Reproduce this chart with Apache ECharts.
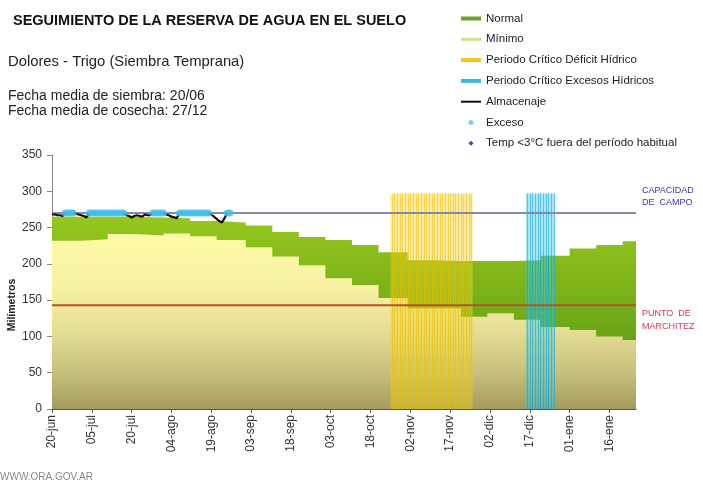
<!DOCTYPE html>
<html><head><meta charset="utf-8">
<script src="https://cdn.jsdelivr.net/npm/echarts@6/dist/echarts.min.js"></script>
<style>html,body{margin:0;padding:0;background:#fff}#c{width:703px;height:484px}</style>
</head><body><div id="c"></div>
<script>
// ---- data ----
const tickLabels = ['20-jun','05-jul','20-jul','04-ago','19-ago','03-sep','18-sep','03-oct','18-oct','02-nov','17-nov','02-dic','17-dic','01-ene','16-ene'];
const tickDays = [0,15,30,45,60,75,90,105,120,135,150,165,180,195,210];
const xMax = 220;
const decadeStart = [0,11,21,31,42,52,62,73,83,93,103,113,123,134,144,154,164,174,184,195,205,215];
const normalTop = [265,265,265,264,263,259,257,253,244,237,233,226,216,205,204,204,204,205,211,221,226,231];
const minimo    = [232,234,241,239,242,238,233,223,210,198,180,171,153,139,139,127,132,123,113,109,100,95];
const almacenaje = [
  268,268,267,267,266,
  270,270,270,270,
  269,268,267,266,264,
  270,270,270,270,270,270,270,270,270,270,270,270,270,270,
  267,266,264,266,267,266,265,268,267,267,
  270,270,270,270,270,
  268,267,265,264,263,
  270,270,270,270,270,270,270,270,270,270,270,270,
  268,265,262,259,257,263,
  270,270
];
const excesoDays = [5,6,7,8,14,15,16,17,18,19,20,21,22,23,24,25,26,27,38,39,40,41,42,48,49,50,51,52,53,54,55,56,57,58,59,66,67];
const capacidad = 270;
const marchitez = 143;
const deficitPeriod = [127.5, 158.5, 297];
const excesosPeriod = [178.5, 189.5, 297];

// ---- build ----
function stepData(vals){ const d = decadeStart.map((s,i)=>[s, vals[i]]); d.push([xMax, vals[vals.length-1]]); return d; }
const almData = almacenaje.map((v,i)=>[i, v]);
const excData = excesoDays.map(d=>[d, capacidad]);

function periodRender(fill, stroke){
  return function(params, api){
    const s = api.value(0), e = api.value(1), top = api.value(2);
    const p0 = api.coord([s, top]), p1 = api.coord([e, 0]);
    const ch = [{type:'rect', shape:{x:p0[0], y:p0[1], width:p1[0]-p0[0], height:p1[1]-p0[1]}, style:{fill:fill}}];
    for (let d = Math.ceil(s); d <= e; d += 1) {
      const a = api.coord([d, top]);
      ch.push({type:'line', shape:{x1:Math.round(a[0])+0.5, y1:p0[1], x2:Math.round(a[0])+0.5, y2:p1[1]}, style:{stroke:stroke, lineWidth:1}});
    }
    return {type:'group', children: ch};
  };
}

const FONT = 'Liberation Sans, Arial, sans-serif';
const chart = echarts.init(document.getElementById('c'), null, {renderer:'canvas'});
chart.setOption({
  animation:false,
  backgroundColor:'#fff',
  textStyle:{fontFamily:FONT},
  grid:{left:52, right:67, top:155, bottom:75, containLabel:false, outerBoundsMode:'none'},
  legend:{
    orient:'vertical', left:456, top:7, itemWidth:20, itemHeight:5, itemGap:7.8,
    selectedMode:false,
    textStyle:{fontSize:11.5, color:'#222', lineHeight:13, fontFamily:FONT},
    data:[
      {name:'Normal', icon:'path://M0,0H20V4H0Z', itemStyle:{color:'#72a028'}},
      {name:'Mínimo', icon:'path://M0,0H20V3H0Z', itemStyle:{color:'#d6da90'}},
      {name:'Periodo Crítico Déficit Hídrico', icon:'path://M0,0H20V4H0Z', itemStyle:{color:'#f0c81a'}},
      {name:'Periodo Crítico Excesos Hídricos', icon:'path://M0,0H20V4H0Z', itemStyle:{color:'#3ab8e0'}},
      {name:'Almacenaje', icon:'path://M0,0H20V2H0Z', itemStyle:{color:'#111'}},
      {name:'Exceso', icon:'circle', itemStyle:{color:'#5cc6ea'}},
      {name:'Temp <3°C fuera del período habitual', icon:'path://M5,0L10,5L5,10L0,5Z', itemStyle:{color:'#1c1c8c'}}
    ]
  },
  xAxis:{
    type:'value', min:0, max:xMax, interval:15,
    axisLine:{lineStyle:{color:'#555', width:1}},
    axisTick:{show:true, length:4, customValues:tickDays, lineStyle:{color:'#555'}},
    axisLabel:{rotate:90, margin:6, fontSize:12, color:'#333', customValues:tickDays,
      formatter:(v)=>{const i = tickDays.indexOf(v); return i>=0 ? tickLabels[i] : '';}},
    splitLine:{show:false}
  },
  yAxis:{
    type:'value', min:0, max:350, interval:50,
    axisLine:{show:true, lineStyle:{color:'#888'}},
    axisTick:{show:true, length:5, lineStyle:{color:'#888'}},
    axisLabel:{fontSize:12, color:'#333', margin:10},
    splitLine:{show:false}
  },
  series:[
    {name:'Normal', type:'line', step:'end', symbol:'none', data:stepData(normalTop), z:1,
      itemStyle:{color:'#72a028'}, lineStyle:{width:0},
      areaStyle:{opacity:1, color:new echarts.graphic.LinearGradient(0,0,0,1,[
        {offset:0,color:'#96c71e'},{offset:0.5,color:'#74ac18'},{offset:1,color:'#4f8a10'}])}},
    {name:'Mínimo', type:'line', step:'end', symbol:'none', data:stepData(minimo), z:1,
      itemStyle:{color:'#d6da90'}, lineStyle:{width:0},
      areaStyle:{opacity:1, color:new echarts.graphic.LinearGradient(0,0,0,1,[
        {offset:0,color:'#fdf9a6'},{offset:0.3,color:'#f8f2a2'},{offset:0.55,color:'#e6de95'},
        {offset:0.8,color:'#c6be7b'},{offset:1,color:'#a39c5c'}])}},
    {name:'Periodo Crítico Déficit Hídrico', type:'custom', data:[deficitPeriod], z:3,
      encode:{x:[0,1], y:2}, itemStyle:{color:'#f0c81a'},
      renderItem:periodRender('rgba(242,208,30,0.42)','rgba(232,190,0,0.5)')},
    {name:'Periodo Crítico Excesos Hídricos', type:'custom', data:[excesosPeriod], z:3,
      encode:{x:[0,1], y:2}, itemStyle:{color:'#3ab8e0'},
      renderItem:periodRender('rgba(50,195,230,0.42)','rgba(20,165,210,0.55)')},
    {name:'Capacidad', type:'line', symbol:'none', data:[[0,capacidad],[xMax,capacidad]], z:4,
      lineStyle:{color:'#8888a8', width:2}, silent:true},
    {name:'Marchitez', type:'line', symbol:'none', data:[[0,marchitez],[xMax,marchitez]], z:4,
      lineStyle:{color:'#b0552a', width:2}, silent:true},
    {name:'Almacenaje', type:'line', symbol:'none', data:almData, z:5,
      itemStyle:{color:'#111'}, lineStyle:{color:'#111', width:2.2}},
    {name:'Exceso', type:'scatter', symbol:'circle', symbolSize:7, data:excData, z:6,
      itemStyle:{color:'#45c0ea'}},
    {name:'Temp <3°C fuera del período habitual', type:'scatter', symbol:'diamond', data:[],
      itemStyle:{color:'#1c1c8c'}}
  ],
  graphic:[
    {type:'text', left:13, top:13, style:{text:'SEGUIMIENTO DE LA RESERVA DE AGUA EN EL SUELO', font:'bold 14.5px '+FONT, fill:'#111'}},
    {type:'text', left:8, top:54, style:{text:'Dolores - Trigo (Siembra Temprana)', font:'14.8px '+FONT, fill:'#222'}},
    {type:'text', left:8, top:89, style:{text:'Fecha media de siembra: 20/06', font:'14px '+FONT, fill:'#222'}},
    {type:'text', left:8, top:104, style:{text:'Fecha media de cosecha: 27/12', font:'14px '+FONT, fill:'#222'}},
    {type:'text', x:642, y:185, style:{text:'CAPACIDAD\nDE  CAMPO', font:'9px '+FONT, fill:'#3a3aa0', lineHeight:12}},
    {type:'text', x:642, y:307, style:{text:'PUNTO  DE\nMARCHITEZ', font:'9px '+FONT, fill:'#cc3a55', lineHeight:13}},
    {type:'text', x:12, y:305, rotation:Math.PI/2, style:{text:'Milímetros', font:'bold 10.5px '+FONT, fill:'#222', textAlign:'center', textVerticalAlign:'middle'}},
    {type:'text', x:0, y:472, style:{text:'WWW.ORA.GOV.AR', font:'10px Liberation Sans Narrow, '+FONT, fill:'#8a8a8a'}}
  ]
});
</script></body></html>
